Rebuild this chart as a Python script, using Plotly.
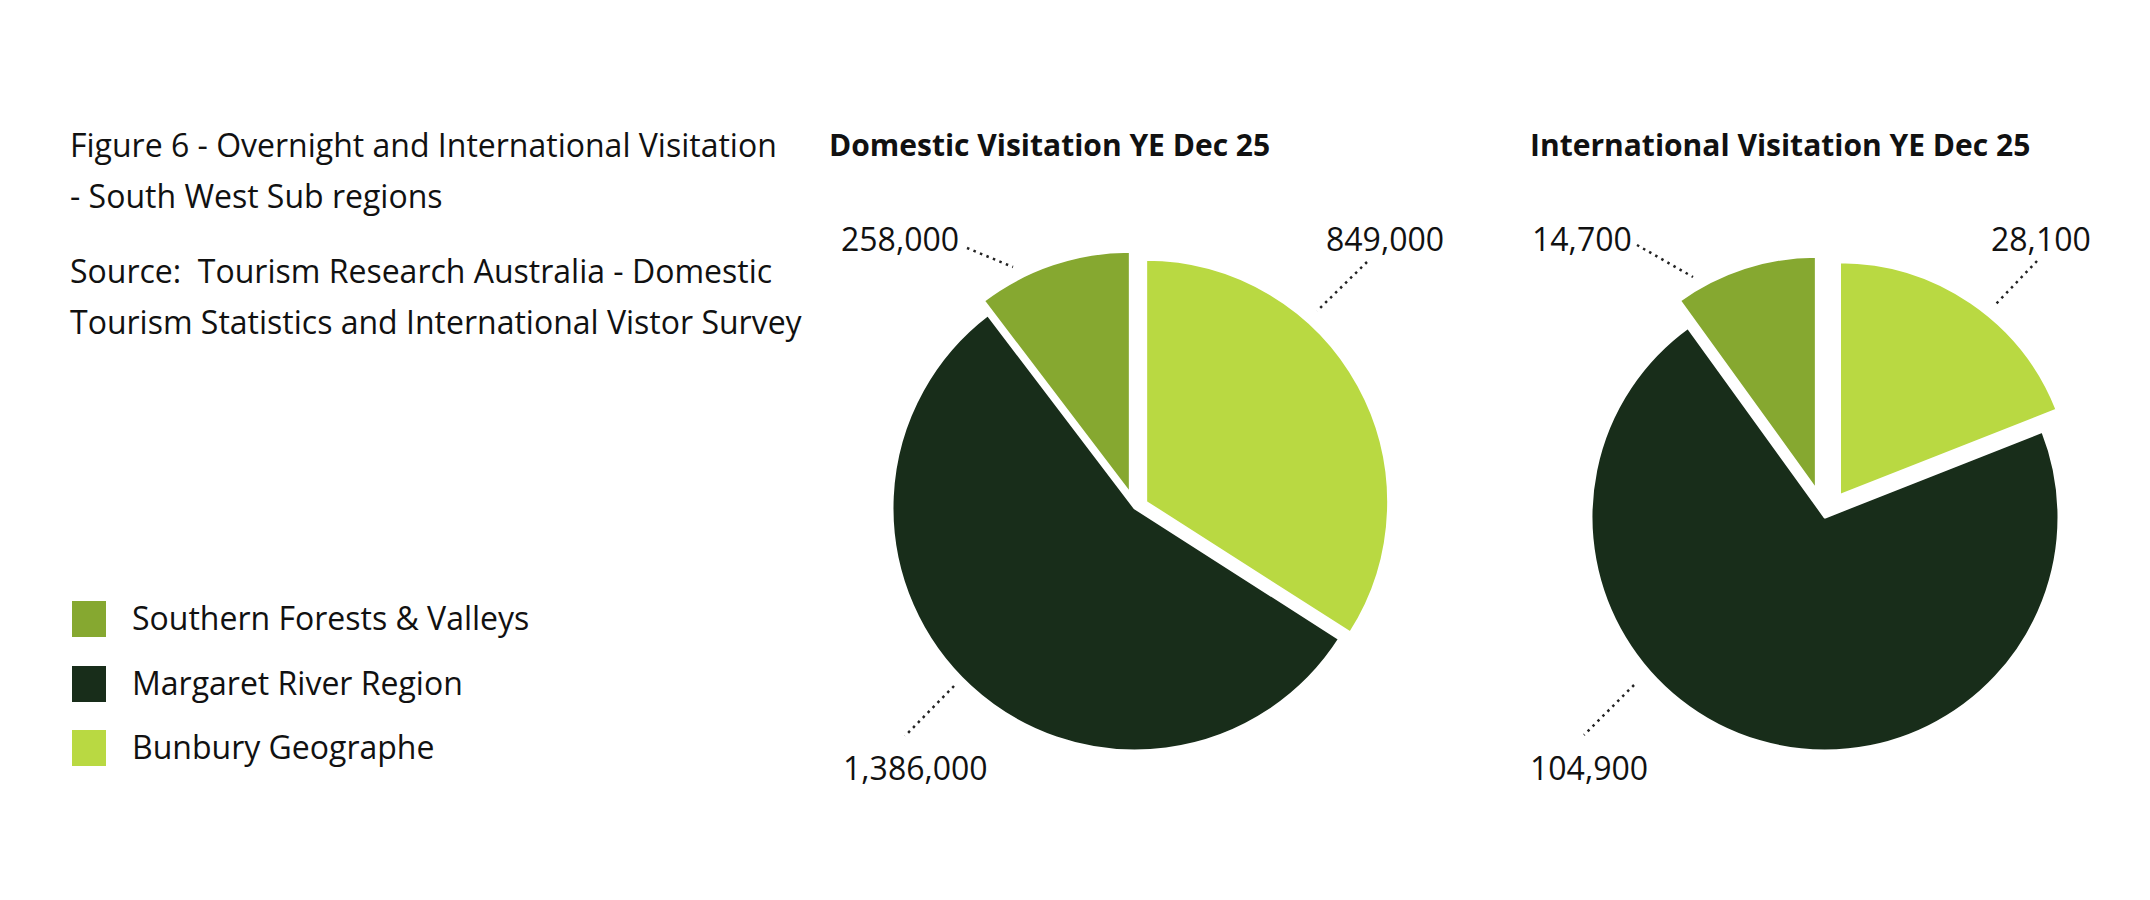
import plotly.graph_objects as go

W, H = 2150, 900

categories = ["Southern Forests & Valleys", "Margaret River Region", "Bunbury Geographe"]
domestic_values = [258000, 1386000, 849000]
international_values = [14700, 104900, 28100]
colors = ["#86A830", "#182D1A", "#B9D942"]

chart_titles = ["Domestic Visitation YE Dec 25", "International Visitation YE Dec 25"]
figure_lines = [
    "Figure 6 - Overnight and International Visitation",
    "- South West Sub regions",
    "Source:  Tourism Research Australia - Domestic",
    "Tourism Statistics and International Vistor Survey",
]

FONT = "Open Sans"
TXT = 32


def px(x):
    return x / W


def py(y):
    return 1 - y / H


def pie_domain(cx, cy, r, maxpull):
    half = r * (1 + maxpull)
    return dict(x=[px(cx - half), px(cx + half)], y=[py(cy + half), py(cy - half)])


def start_rotation(values):
    # first slice (Southern Forests) sits just left of 12 o'clock
    return -360.0 * values[0] / sum(values)


dom_pull = [0.06, 0.0, 0.05]
int_pull = [0.12, 0.0, 0.11]

fig = go.Figure()
fig.add_trace(go.Pie(
    labels=categories, values=domestic_values, sort=False,
    direction="counterclockwise", rotation=start_rotation(domestic_values),
    marker=dict(colors=colors, line=dict(color="white", width=3)),
    pull=dom_pull, textinfo="none", hoverinfo="label+value",
    domain=pie_domain(1135, 508, 243, max(dom_pull)), showlegend=False,
))
fig.add_trace(go.Pie(
    labels=categories, values=international_values, sort=False,
    direction="counterclockwise", rotation=start_rotation(international_values),
    marker=dict(colors=colors, line=dict(color="white", width=3)),
    pull=int_pull, textinfo="none", hoverinfo="label+value",
    domain=pie_domain(1825, 517, 234, max(int_pull)), showlegend=False,
))

annotations = []
shapes = []
DX = -3  # annotation padding compensation

for text, y in zip(figure_lines, [144, 196, 270, 321]):
    annotations.append(dict(text=text, x=px(71 + DX), y=py(y), xref="paper", yref="paper",
                            xanchor="left", yanchor="middle", showarrow=False,
                            font=dict(family=FONT, size=TXT, color="#111111")))

for text, x in zip(chart_titles, [830, 1531]):
    annotations.append(dict(text="<b>" + text + "</b>", x=px(x + DX), y=py(144), xref="paper", yref="paper",
                            xanchor="left", yanchor="middle", showarrow=False,
                            font=dict(family=FONT, size=30, color="#111111")))

dom_label_pos = [(842, 238, (967, 248), (1013, 267)),
                 (844, 767, (954, 686), (905, 736)),
                 (1327, 238, (1367, 262), (1317, 311))]
int_label_pos = [(1533, 238, (1637, 245), (1693, 277)),
                 (1531, 767, (1634, 685), (1584, 735)),
                 (1992, 238, (2037, 261), (1995, 305))]

for values, positions in [(domestic_values, dom_label_pos), (international_values, int_label_pos)]:
    for v, (lx, ly, p0, p1) in zip(values, positions):
        annotations.append(dict(text=f"{v:,}", x=px(lx + DX), y=py(ly), xref="paper", yref="paper",
                                xanchor="left", yanchor="middle", showarrow=False,
                                font=dict(family=FONT, size=TXT, color="#111111")))
        shapes.append(dict(type="line", xref="paper", yref="paper",
                           x0=px(p0[0]), y0=py(p0[1]), x1=px(p1[0]), y1=py(p1[1]),
                           line=dict(color="#222222", width=2.5, dash="2.5px,4.5px")))

for cat, col, yc in zip(categories, colors, [619, 684, 748]):
    shapes.append(dict(type="rect", xref="paper", yref="paper",
                       x0=px(72), x1=px(106), y0=py(yc + 18), y1=py(yc - 18),
                       fillcolor=col, line=dict(width=0)))
    annotations.append(dict(text=cat, x=px(133 + DX), y=py(yc - 2), xref="paper", yref="paper",
                            xanchor="left", yanchor="middle", showarrow=False,
                            font=dict(family=FONT, size=TXT, color="#111111")))

fig.update_layout(
    width=W, height=H,
    margin=dict(l=0, r=0, t=0, b=0),
    paper_bgcolor="white", plot_bgcolor="white",
    annotations=annotations, shapes=shapes,
    font=dict(family=FONT),
)

fig.write_html("out.html", config={"displayModeBar": False},
               post_script="document.body.style.margin='0';")
